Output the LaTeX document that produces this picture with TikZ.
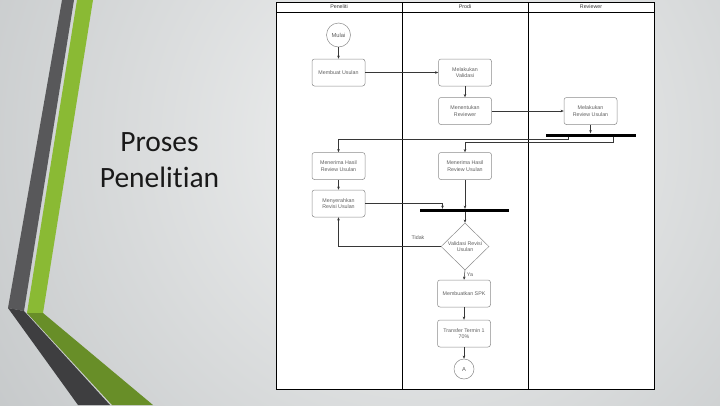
\documentclass[tikz,border=0pt]{standalone}
\usepackage{fontspec}
\setmainfont{Liberation Sans}
\newfontfamily\titlefont[Ligatures=NoCommon]{Carlito}
\usetikzlibrary{arrows.meta,shapes.geometric}
\definecolor{bgin}{RGB}{242,243,243}
\definecolor{bgout}{RGB}{176,180,182}
\definecolor{darkstripe}{RGB}{88,88,90}
\definecolor{darkstripelow}{RGB}{62,62,64}
\definecolor{greenstripe}{RGB}{138,186,52}
\definecolor{greenstripelow}{RGB}{104,142,40}
\definecolor{boxline}{RGB}{140,140,140}
\definecolor{boxtxt}{RGB}{95,95,95}
\definecolor{lineclr}{RGB}{55,55,55}
\tikzset{
  box/.style={draw=boxline, line width=0.5pt, rounded corners=2.5pt, fill=white,
    minimum width=53pt, minimum height=27pt, inner sep=1pt, align=center,
    font=\fontsize{5.3}{6.3}\selectfont, text=boxtxt},
  lbl/.style={inner sep=0pt, align=center, font=\fontsize{5.3}{6.3}\selectfont, text=boxtxt},
  hdr/.style={inner sep=0pt, font=\fontsize{5.3}{6.3}\selectfont, text=black!80},
  bar/.style={fill=black, minimum height=3pt, inner sep=0pt},
  arr/.style={draw=lineclr, line width=0.5pt, -{Stealth[length=3.2pt,width=2.6pt]}},
  lane/.style={draw=black, line width=0.8pt}
}
\begin{document}
\begin{tikzpicture}[x=1pt,y=-1pt]
\useasboundingbox (0,0) rectangle (720,405);
% background
\begin{scope}
\clip (0,0) rectangle (720,405);
\shade[inner color=bgin, outer color=bgout] (420,140) circle (760);
\end{scope}
% stripes
\fill[darkstripe] (62,0) -- (74,0) -- (24,311) -- (8,308) -- cycle;
\fill[darkstripelow] (8,308) -- (24,311) -- (110,405) -- (78,405) -- cycle;
\fill[greenstripe] (77,0) -- (93,0) -- (43,313) -- (27,313) -- cycle;
\fill[greenstripelow] (27,313) -- (43,313) -- (153,405) -- (112,405) -- cycle;
% title
\node[font=\titlefont\fontsize{29.5}{36}\selectfont, text=black!90, align=center, inner sep=0pt] (title) at (159.5,160) {Proses\\Penelitian};
% panel
\fill[white] (276,2) rectangle (654,389);
\draw[lane] (276,2) rectangle (654,389);
\draw[lane] (276,12) -- (654,12);
\draw[lane] (402,2) -- (402,389);
\draw[lane] (528,2) -- (528,389);
\node[hdr] (h1) at (339,7) {Peneliti};
\node[hdr] (h2) at (465,7) {Prodi};
\node[hdr] (h3) at (591,7) {Reviewer};
% nodes
\node[circle, draw=boxline, line width=0.5pt, minimum size=24pt, inner sep=0pt, font=\fontsize{5.8}{6.8}\selectfont, text=boxtxt] (mulai) at (338.5,35) {Mulai};
\node[box] (membuat) at (338.5,72.5) {Membuat Usulan};
\node[box] (validasi) at (465,72.5) {Melakukan\\Validasi};
\node[box] (menentukan) at (465,111) {Menentukan\\Reviewer};
\node[box] (review) at (590.5,111) {Melakukan\\Review Usulan};
\node[bar, minimum width=90pt] (bar1) at (591,135) {};
\node[box] (terimaP) at (338.5,166) {Menerima Hasil\\Review Usulan};
\node[box] (terimaD) at (465,166) {Menerima Hasil\\Review Usulan};
\node[box] (serah) at (338.5,203.5) {Menyerahkan\\Revisi Usulan};
\node[bar, minimum width=89pt] (bar2) at (464.5,210.5) {};
\node[diamond, draw=boxline, line width=0.5pt, fill=white, minimum width=48pt, minimum height=47pt, inner sep=0pt] (valid) at (465,246.5) {};
\node[lbl] (validtxt) at (valid.center) {Validasi Revisi\\Usulan};
\node[box] (spk) at (464,293.5) {Membuatkan SPK};
\node[box] (transfer) at (464,333.5) {Transfer Termin 1\\70\%};
\node[circle, draw=boxline, line width=0.5pt, fill=white, minimum size=20pt, inner sep=0pt, font=\fontsize{5.8}{6.8}\selectfont, text=boxtxt] (A) at (464,369) {A};
% connectors
\draw[arr] (mulai) -- (membuat);
\draw[arr] (membuat) -- (validasi);
\draw[arr] (validasi) -- (menentukan);
\draw[arr] (menentukan) -- (review);
\draw[arr] (review) -- (review |- bar1.north);
\draw[arr] ([xshift=-23pt]bar1.south) -- ++(0,2.5) -| (terimaP.north);
\draw[arr] ([xshift=22pt]bar1.south) -- ++(0,5.5) -| (terimaD.north);
\draw[arr] (terimaP) -- (serah);
\draw[arr] (serah.east) -| ([xshift=-22pt]bar2.north);
\draw[arr] (terimaD) -- (terimaD |- bar2.north);
\draw[arr] (valid |- bar2.south) -- (valid.north);
\draw[arr] (valid.west) -| (serah.south);
\node[lbl] (tidak) at (418,238) {Tidak};
\draw[arr] (valid.south) -- (spk.north);
\node[lbl] (ya) at (470,275) {Ya};
\draw[arr] (spk) -- (transfer);
\draw[arr] (transfer) -- (A);
\end{tikzpicture}
\end{document}
